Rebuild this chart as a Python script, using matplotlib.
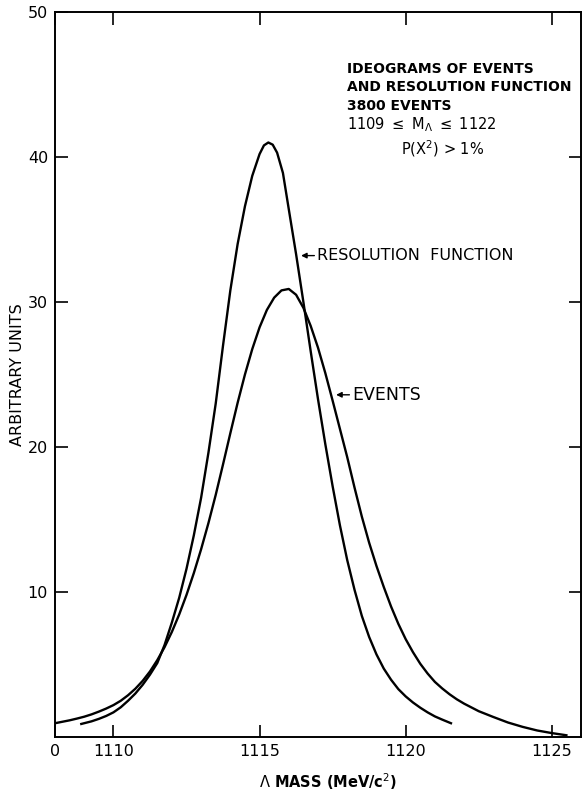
import matplotlib
matplotlib.use('Agg')
import matplotlib.pyplot as plt

# Lambda mass (MeV/c^2) and ideogram heights (arbitrary units)
events_mass = [1108.0, 1108.25, 1108.5, 1108.75, 1109.0, 1109.25, 1109.5, 1109.75,
               1110.0, 1110.25, 1110.5, 1110.75, 1111.0, 1111.25, 1111.5, 1111.75,
               1112.0, 1112.25, 1112.5, 1112.75, 1113.0, 1113.25, 1113.5, 1113.75,
               1114.0, 1114.25, 1114.5, 1114.75, 1115.0, 1115.25, 1115.5, 1115.75,
               1116.0, 1116.25, 1116.5, 1116.75, 1117.0, 1117.25, 1117.5, 1117.75,
               1118.0, 1118.25, 1118.5, 1118.75, 1119.0, 1119.25, 1119.5, 1119.75,
               1120.0, 1120.25, 1120.5, 1120.75, 1121.0, 1121.25, 1121.5, 1121.75,
               1122.0, 1122.5, 1123.0, 1123.5, 1124.0, 1124.5, 1125.0, 1125.5]
events_val = [0.95, 1.05, 1.15, 1.27, 1.4, 1.56, 1.75, 1.96,
              2.2, 2.5, 2.88, 3.33, 3.87, 4.52, 5.3, 6.2,
              7.25, 8.45, 9.8, 11.3, 12.95, 14.75, 16.7, 18.8,
              20.95, 23.05, 25.0, 26.75, 28.25, 29.45, 30.3, 30.8,
              30.9, 30.5, 29.6, 28.35, 26.85, 25.1, 23.2, 21.25,
              19.3, 17.2, 15.2, 13.4, 11.8, 10.35, 9.0, 7.8,
              6.75, 5.85, 5.05, 4.38, 3.8, 3.35, 2.95, 2.6,
              2.3, 1.78, 1.38, 1.0, 0.7, 0.45, 0.27, 0.12]

res_mass = [1108.9, 1109.25, 1109.5, 1109.75, 1110.0, 1110.25, 1110.5, 1110.75,
            1111.0, 1111.25, 1111.5, 1111.75, 1112.0, 1112.25, 1112.5, 1112.75,
            1113.0, 1113.25, 1113.5, 1113.75, 1114.0, 1114.25, 1114.5, 1114.75,
            1115.0, 1115.15, 1115.3, 1115.45, 1115.6, 1115.8, 1116.0, 1116.25,
            1116.5, 1116.75, 1117.0, 1117.25, 1117.5, 1117.75, 1118.0, 1118.25,
            1118.5, 1118.75, 1119.0, 1119.25, 1119.5, 1119.75, 1120.0, 1120.25,
            1120.5, 1120.75, 1121.0, 1121.25, 1121.55]
res_val = [0.9, 1.08, 1.25, 1.45, 1.7, 2.05, 2.5, 3.0,
           3.6, 4.3, 5.1, 6.35, 7.9, 9.6, 11.6, 13.9,
           16.5, 19.6, 23.0, 27.0, 30.8, 34.0, 36.6, 38.7,
           40.2, 40.8, 41.0, 40.85, 40.3, 38.9, 36.4, 33.3,
           30.0, 26.6, 23.3, 20.2, 17.3, 14.6, 12.2, 10.15,
           8.35, 6.9, 5.7, 4.72, 3.95, 3.3, 2.8, 2.38,
           2.02, 1.7, 1.42, 1.2, 0.95]

x_ticks = [1108, 1110, 1115, 1120, 1125]
x_labels = ['0', '1110', '1115', '1120', '1125']
y_ticks = [10, 20, 30, 40, 50]

fig = plt.figure(figsize=(5.84, 7.93), dpi=100)
ax = fig.add_axes([55/584, 1 - 737/793, 526/584, 725/793])

ax.plot(events_mass, events_val, color='black', lw=1.7)
ax.plot(res_mass, res_val, color='black', lw=1.7)

ax.set_xlim(1108, 1126)
ax.set_ylim(0, 50)
ax.set_xticks(x_ticks)
ax.set_xticklabels(x_labels)
ax.set_yticks(y_ticks)
ax.tick_params(direction='in', length=9, width=1.2, labelsize=11.5,
               top=True, right=True, pad=5)
for s in ax.spines.values():
    s.set_linewidth(1.4)

ax.set_xlabel(r'$\Lambda$ MASS (MeV/c$^2$)', fontsize=10.5, fontweight='bold',
              labelpad=9)
ax.xaxis.label.set_x(0.52)
ax.set_ylabel('ARBITRARY UNITS', fontsize=11.5, labelpad=2)

info = ['IDEOGRAMS OF EVENTS', 'AND RESOLUTION FUNCTION', '3800 EVENTS']
for i, line in enumerate(info):
    ax.text(1118.0, 46.1 - i * 1.3, line, fontsize=10, fontweight='bold',
            va='center', ha='left')
ax.text(1118.0, 42.2, r'1109 $\leq$ M$_\Lambda$ $\leq$ 1122', fontsize=10.5,
        va='center', ha='left')
ax.text(1119.85, 40.6, r'P(X$^2$) > 1%', fontsize=10.5, va='center', ha='left')

ax.annotate('RESOLUTION  FUNCTION', xy=(1116.42, 33.2), xytext=(1116.97, 33.2),
            fontsize=11.5, va='center', ha='left',
            arrowprops=dict(arrowstyle='-|>', color='black', lw=1,
                            mutation_scale=8, shrinkA=0, shrinkB=0))
ax.annotate('EVENTS', xy=(1117.62, 23.6), xytext=(1118.17, 23.6),
            fontsize=12.5, va='center', ha='left',
            arrowprops=dict(arrowstyle='-|>', color='black', lw=1,
                            mutation_scale=8, shrinkA=0, shrinkB=0))

plt.savefig('out.png', dpi=100)
